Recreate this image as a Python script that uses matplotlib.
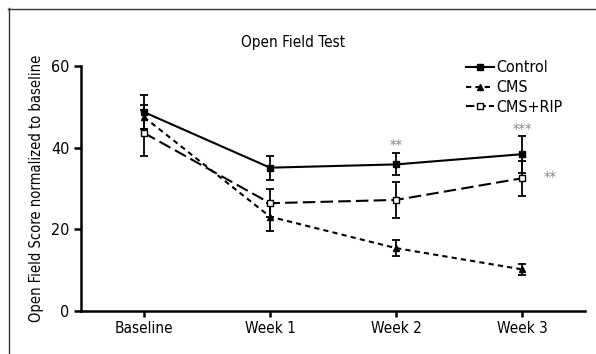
import matplotlib.pyplot as plt
from matplotlib.lines import Line2D

plt.rcParams['font.family'] = ['Liberation Sans Narrow', 'DejaVu Sans']
plt.rcParams['font.stretch'] = 'condensed'

groups = ['Baseline', 'Week 1', 'Week 2', 'Week 3']
control = [48.7, 35.1, 35.9, 38.4]
control_err = [4.2, 2.9, 2.7, 4.5]
cms = [47.5, 23.1, 15.4, 10.2]
cms_err = [3.0, 3.4, 1.9, 1.3]
cms_rip = [43.6, 26.4, 27.2, 32.5]
cms_rip_err = [5.6, 3.4, 4.5, 4.3]

# significance marks: (group index, y value, text, x offset)
stars = [(2, 40.4, '**', 0.0), (3, 44.2, '***', 0.0), (3, 32.5, '**', 0.17)]

x = list(range(len(groups)))

fig = plt.figure(figsize=(5.96, 3.54), dpi=100)
ax = fig.add_axes([81 / 596, 1 - 311 / 354, 504 / 596, 245 / 354])

ax.errorbar(x, control, yerr=control_err, color='black', lw=1.5, marker='s',
            ms=5, capsize=3, elinewidth=1.3, capthick=1.3, label='Control')
ax.errorbar(x, cms, yerr=cms_err, color='black', lw=1.5, ls=(0, (2.5, 2)),
            marker='^', ms=4.5, capsize=3, elinewidth=1.3, capthick=1.3, label='CMS')
ax.errorbar(x, cms_rip, yerr=cms_rip_err, color='black', lw=1.5, ls=(0, (6, 2.5)),
            marker='s', ms=5, mfc='white', capsize=3, elinewidth=1.3,
            capthick=1.3, label='CMS+RIP')

for i, yv, txt, dx in stars:
    ax.text(i + dx, yv, txt, ha='center' if dx == 0 else 'left', va='center',
            color='#888888', fontsize=10.5)

ax.set_xlim(-0.5, 3.5)
ax.set_ylim(0, 60)
ax.set_xticks(x)
ax.set_xticklabels(groups, fontsize=11)
ax.set_yticks([0, 20, 40, 60])
ax.tick_params(axis='y', labelsize=11.5, width=1.8, length=5)
ax.tick_params(axis='x', width=1.8, length=4)
ax.spines['top'].set_visible(False)
ax.spines['right'].set_visible(False)
ax.spines['left'].set_linewidth(1.8)
ax.spines['bottom'].set_linewidth(1.8)
ax.set_ylabel('Open Field Score normalized to baseline', fontsize=10.5, labelpad=5)

fig.text(293 / 596, 1 - 43 / 354, 'Open Field Test', ha='center', va='center', fontsize=11)

handles = [
    Line2D([], [], color='black', lw=1.5, marker='s', ms=4.5),
    Line2D([], [], color='black', lw=1.5, ls=(0, (2.5, 2)), marker='^', ms=4.5),
    Line2D([], [], color='black', lw=1.5, ls=(0, (4, 1.5)), marker='s', ms=5, mfc='white'),
]
fig.legend(handles, ['Control', 'CMS', 'CMS+RIP'], loc='upper left',
           bbox_to_anchor=(460 / 596, 1 - 54 / 354), frameon=False, fontsize=11.5,
           handlelength=1.7, handletextpad=0.2, labelspacing=0.3, borderaxespad=0)

# frame lines along the top and left of the picture
fig.add_artist(Line2D([8 / 596, 1], [1 - 8.5 / 354, 1 - 8.5 / 354], color='#333333', lw=1))
fig.add_artist(Line2D([8.5 / 596, 8.5 / 596], [0, 1 - 8 / 354], color='#333333', lw=1))

fig.savefig('out.png', dpi=100)
